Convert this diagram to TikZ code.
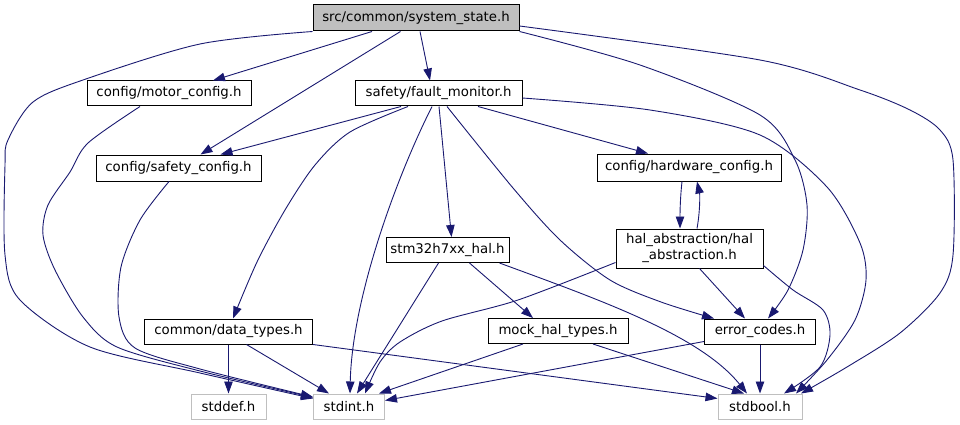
\documentclass[tikz,border=0pt]{standalone}
\usepackage{fontspec}
\setmainfont{DejaVu Sans}
\usetikzlibrary{arrows.meta}
\definecolor{edgeblue}{HTML}{191970}
\definecolor{extgray}{HTML}{BFBFBF}

\begin{document}
\begin{tikzpicture}[x=1pt, y=-1pt,
  hdr/.style={draw=black, line width=1pt, minimum height=25pt, inner sep=0pt,
    font=\fontsize{13.3}{16}\selectfont, align=center},
  ext/.style={hdr, draw=extgray},
  inc/.style={draw=edgeblue, line width=0.9pt, -{Triangle[length=12pt,width=8.5pt]}}]
  \useasboundingbox (0,0) rectangle (960,425);

  % headers
  \node[hdr, fill=extgray, minimum width=206pt, minimum height=26pt] (sys) at (416,18) {src/common/system\_state.h};
  \node[hdr, minimum width=164pt] (motor) at (169,93.5) {config/motor\_config.h};
  \node[hdr, minimum width=167pt] (fault) at (438.5,93.5) {safety/fault\_monitor.h};
  \node[hdr, minimum width=165pt, minimum height=26pt] (safety) at (178.5,168) {config/safety\_config.h};
  \node[hdr, minimum width=184pt, minimum height=27pt] (hwcfg) at (689,167.5) {config/hardware\_config.h};
  \node[hdr, minimum width=147pt, minimum height=39pt] (hal) at (689.5,248.5) {hal\_abstraction/hal\\\_abstraction.h};
  \node[hdr, minimum width=123pt, minimum height=25pt] (stm) at (447.5,250) {stm32h7xx\_hal.h};
  \node[hdr, minimum width=168pt] (types) at (228.5,331.5) {common/data\_types.h};
  \node[hdr, minimum width=140pt] (mock) at (558,331) {mock\_hal\_types.h};
  \node[hdr, minimum width=111pt] (err) at (760,331.5) {error\_codes.h};
  \node[ext, minimum width=75pt] (stddef) at (228.5,406.5) {stddef.h};
  \node[ext, minimum width=71pt] (stdint) at (349,406.5) {stdint.h};
  \node[ext, minimum width=84pt] (stdbool) at (760,406.5) {stdbool.h};

  % from system_state.h
  \draw[inc] ([xshift=-44pt]sys.south) -- ([xshift=44pt]motor.north);
  \draw[inc] ([xshift=-15.5pt]sys.south) -- ([xshift=22pt]safety.north);
  \draw[inc] ([xshift=4pt]sys.south) -- ([xshift=-8.5pt]fault.north);
  \draw[inc] plot[smooth] coordinates {(sys.south west) (200,44) (83,80) (33,102) (8,140) (5,165) (5,255) (20,300) (90,347) (200,373) ([yshift=8pt]stdint.west)};
  \draw[inc] plot[smooth] coordinates {(sys.south east) (640,65) (760,115) (795,160) (807,205) (803,250) (788,290) ([xshift=8pt]err.north)};
  \draw[inc] plot[smooth] coordinates {([yshift=-8pt]sys.east) (760,60) (860,90) (910,110) (940,130) (953,160) (953,255) (940,293) (900,333) (847,367) ([xshift=41pt]stdbool.north)};

  % from motor_config.h and safety_config.h
  \draw[inc] plot[smooth] coordinates {([xshift=-29pt]motor.south) (88,143) (70,172) (48,205) (43,235) (55,270) (83,317) (117,347) (200,371) ([yshift=9pt]stdint.west)};
  \draw[inc] plot[smooth] coordinates {([xshift=-9.5pt]safety.south) (140,220) (121,267) (119,317) (135,348) (200,369) ([yshift=9.5pt]stdint.west)};

  % from fault_monitor.h
  \draw[inc] ([xshift=-37.5pt]fault.south) -- ([xshift=42pt]safety.north);
  \draw[inc] plot[smooth] coordinates {([xshift=-30.5pt]fault.south) (350,132) (315,165) (285,210) (257,262) ([xshift=4.5pt]types.north)};
  \draw[inc] ([xshift=-6.5pt]fault.south) .. controls (395,180) and (352,300) .. ([xshift=1pt]stdint.north);
  \draw[inc] ([xshift=0.5pt]fault.south) -- ([xshift=4pt]stm.north);
  \draw[inc] plot[smooth] coordinates {([xshift=8.5pt]fault.south) (513,188) (560,240) (610,280) (661,302) ([xshift=-46pt]err.north)};
  \draw[inc] ([xshift=39.5pt]fault.south) -- ([xshift=-41pt]hwcfg.north);
  \draw[inc] plot[smooth] coordinates {([yshift=-4.5pt]fault.east) (650,110) (760,135) (827,187) (860,243) (866,280) (855,320) (827,360) ([xshift=36pt]stdbool.north)};

  % hardware_config.h <-> hal_abstraction.h
  \draw[inc] ([xshift=-7pt]hwcfg.south) .. controls (680,200) and (680,215) .. ([xshift=-9.5pt]hal.north);
  \draw[inc] ([xshift=7.5pt]hal.north) .. controls (700,212) and (700,195) .. ([xshift=8pt]hwcfg.south);

  % from hal_abstraction.h
  \draw[inc] plot[smooth] coordinates {([yshift=-14pt]hal.west) (518,300) (442,321) (400,342) (380,362) ([xshift=16pt]stdint.north)};
  \draw[inc] ([xshift=10pt]hal.south) -- ([xshift=-15pt]err.north);
  \draw[inc] plot[smooth] coordinates {([yshift=-17pt]hal.east) (793,290) (823,310) (830,335) (820,367) ([xshift=24pt]stdbool.north)};

  % from stm32h7xx_hal.h
  \draw[inc] ([xshift=-9pt]stm.south) -- ([xshift=8pt]stdint.north);
  \draw[inc] ([xshift=22pt]stm.south) -- ([xshift=-25pt]mock.north);
  \draw[inc] ([xshift=-10pt]stm.south east) .. controls (600,300) and (700,335) .. ([xshift=-13pt]stdbool.north);

  % from data_types.h
  \draw[inc] (types.south) -- (stddef.north);
  \draw[inc] ([xshift=18pt]types.south) -- ([xshift=-20pt]stdint.north);
  \draw[inc] (types.south east) -- ([yshift=8pt]stdbool.west);

  % from mock_hal_types.h
  \draw[inc] ([xshift=-35pt]mock.south) -- ([xshift=30pt]stdint.north);
  \draw[inc] ([xshift=35pt]mock.south) -- ([xshift=-16pt]stdbool.north);

  % from error_codes.h
  \draw[inc] ([yshift=3pt]err.south west) -- ([yshift=6pt]stdint.east);
  \draw[inc] (err.south) -- (stdbool.north);
\end{tikzpicture}
\end{document}
